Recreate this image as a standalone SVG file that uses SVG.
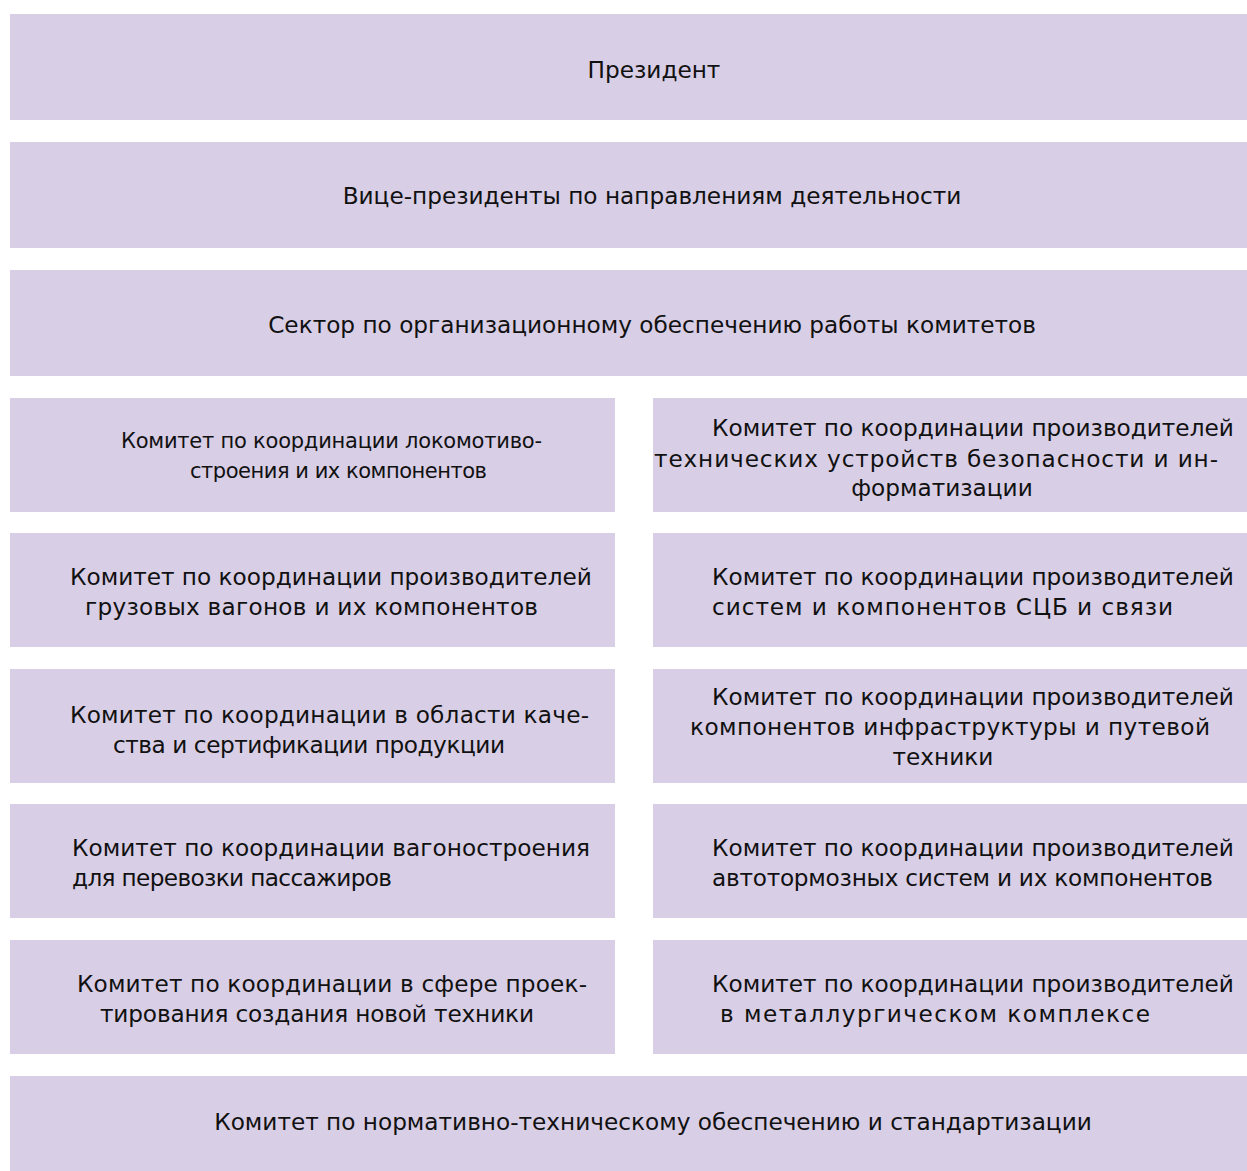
<svg xmlns="http://www.w3.org/2000/svg" width="1247" height="1171" viewBox="0 0 1247 1171">
<style>
.b{fill:#d8cee6}
text{font-family:"DejaVu Sans",Verdana,sans-serif;font-size:23.2px;fill:#111}
.c{text-anchor:middle}
.s{font-size:21px}
</style>
<rect width="1247" height="1171" fill="#fff"/>
<g id="n1"><rect class="b" x="10" y="14" width="1237" height="106"/><text class="c" x="654" y="78">Президент</text></g>
<g id="n2"><rect class="b" x="10" y="142" width="1237" height="106"/><text class="c" x="652" y="204">Вице-президенты по направлениям деятельности</text></g>
<g id="n3"><rect class="b" x="10" y="270" width="1237" height="106"/><text class="c" x="652" y="333">Сектор по организационному обеспечению работы комитетов</text></g>
<g id="n4"><rect class="b" x="10" y="398" width="605" height="114"/><text class="s" x="121" y="448" textLength="421" lengthAdjust="spacing">Комитет по координации локомотиво-</text><text class="s" x="190" y="478" textLength="297" lengthAdjust="spacing">строения и их компонентов</text></g>
<g id="n5"><rect class="b" x="653" y="398" width="594" height="114"/><text x="712" y="436">Комитет по координации производителей</text><text x="654" y="467" textLength="564" lengthAdjust="spacing">технических устройств безопасности и ин-</text><text class="c" x="942" y="496">форматизации</text></g>
<g id="n6"><rect class="b" x="10" y="533" width="605" height="114"/><text x="70" y="585">Комитет по координации производителей</text><text x="85" y="615" textLength="453" lengthAdjust="spacing">грузовых вагонов и их компонентов</text></g>
<g id="n7"><rect class="b" x="653" y="533" width="594" height="114"/><text x="712" y="585">Комитет по координации производителей</text><text x="712" y="615" textLength="461" lengthAdjust="spacing">систем и компонентов СЦБ и связи</text></g>
<g id="n8"><rect class="b" x="10" y="669" width="605" height="114"/><text x="70" y="723" textLength="519" lengthAdjust="spacing">Комитет по координации в области каче-</text><text x="113" y="753" textLength="392" lengthAdjust="spacing">ства и сертификации продукции</text></g>
<g id="n9"><rect class="b" x="653" y="669" width="594" height="114"/><text x="712" y="705">Комитет по координации производителей</text><text x="690" y="735" textLength="520" lengthAdjust="spacing">компонентов инфраструктуры и путевой</text><text class="c" x="943" y="765">техники</text></g>
<g id="n10"><rect class="b" x="10" y="804" width="605" height="114"/><text x="72" y="856" textLength="518" lengthAdjust="spacing">Комитет по координации вагоностроения</text><text x="72" y="886" textLength="320" lengthAdjust="spacing">для перевозки пассажиров</text></g>
<g id="n11"><rect class="b" x="653" y="804" width="594" height="114"/><text x="712" y="856">Комитет по координации производителей</text><text x="712" y="886" textLength="501" lengthAdjust="spacing">автотормозных систем и их компонентов</text></g>
<g id="n12"><rect class="b" x="10" y="940" width="605" height="114"/><text x="77" y="992" textLength="510" lengthAdjust="spacing">Комитет по координации в сфере проек-</text><text x="100" y="1022" textLength="434" lengthAdjust="spacing">тирования создания новой техники</text></g>
<g id="n13"><rect class="b" x="653" y="940" width="594" height="114"/><text x="712" y="992">Комитет по координации производителей</text><text x="720" y="1022" textLength="430" lengthAdjust="spacing">в металлургическом комплексе</text></g>
<g id="n14"><rect class="b" x="10" y="1076" width="1237" height="95"/><text class="c" x="653" y="1130">Комитет по нормативно-техническому обеспечению и стандартизации</text></g>
<g id="connectors"/>
</svg>
